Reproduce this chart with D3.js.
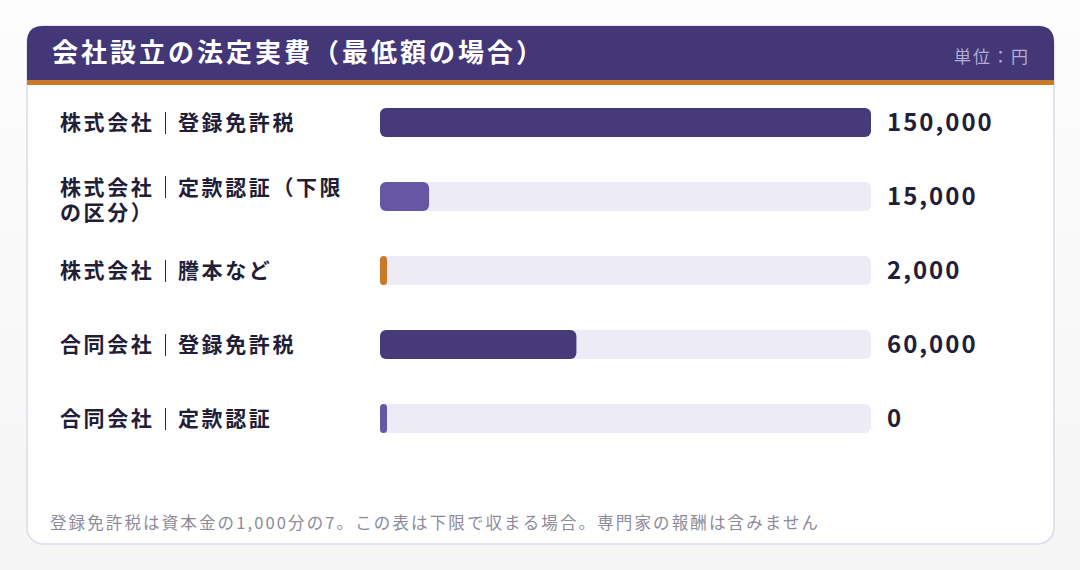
<!DOCTYPE html>
<html>
<head>
<meta charset="utf-8">
<script src="https://cdn.jsdelivr.net/npm/d3@7"></script>
<style>
  html, body { margin: 0; padding: 0; }
  body { width: 1080px; height: 570px; background: linear-gradient(#fdfdfd, #f5f5f6); overflow: hidden; }
  svg { display: block; font-family: "Noto Sans CJK JP", "Noto Sans", sans-serif; }
</style>
</head>
<body>
<script>
// chart data
var categories = ["株式会社｜登録免許税", "株式会社｜定款認証（下限の区分）", "株式会社｜謄本など", "合同会社｜登録免許税", "合同会社｜定款認証"];
var values = [150000, 15000, 2000, 60000, 0];
var kinds = ["tax", "notary", "copy", "tax", "notary"];
var title = "会社設立の法定実費（最低額の場合）";
var unitLabel = "単位：円";
var footnote = "登録免許税は資本金の1,000分の7。この表は下限で収まる場合。専門家の報酬は含みません";

var width = 1080,
    height = 570;

var colors = { tax: "#463a7a", notary: "#6656a3", copy: "#c77a27" };

var svg = d3.select("body")
    .append("svg")
    .attr("width", width)
    .attr("height", height);

//card frame
var card = { x: 27, y: 26, w: 1027, h: 518, r: 16 };

svg.append("rect")
    .attr("x", card.x)
    .attr("y", card.y)
    .attr("width", card.w)
    .attr("height", card.h)
    .attr("rx", card.r)
    .attr("fill", "#fefefe")
    .attr("stroke", "#dcdae9")
    .attr("stroke-width", 1.5);

//header band with rounded top only
var hh = 54;
svg.append("path")
    .attr("d", "M" + card.x + "," + (card.y + hh) +
        " V" + (card.y + card.r) +
        " Q" + card.x + "," + card.y + " " + (card.x + card.r) + "," + card.y +
        " H" + (card.x + card.w - card.r) +
        " Q" + (card.x + card.w) + "," + card.y + " " + (card.x + card.w) + "," + (card.y + card.r) +
        " V" + (card.y + hh) + " Z")
    .attr("fill", "#433777");

svg.append("rect")
    .attr("x", card.x)
    .attr("y", card.y + hh)
    .attr("width", card.w)
    .attr("height", 5)
    .attr("fill", "#c77a27");

svg.append("text")
    .attr("x", 52)
    .attr("y", card.y + hh / 2)
    .attr("dy", "0.36em")
    .attr("fill", "#ffffff")
    .attr("font-size", 26)
    .attr("font-weight", 700)
    .attr("letter-spacing", 3)
    .text(title);

svg.append("text")
    .attr("x", 1030)
    .attr("y", card.y + hh / 2 + 4)
    .attr("dy", "0.36em")
    .attr("text-anchor", "end")
    .attr("fill", "#b3acd4")
    .attr("font-size", 17)
    .attr("letter-spacing", 2)
    .text(unitLabel);

//scale
var x = d3.scaleLinear()
    .domain([0, d3.max(values)])
    .range([0, 491]);

var barX = 380,
    barH = 29,
    rowStep = 74,
    minW = 7;

var rows = svg.selectAll(".row")
    .data(values)
    .enter()
    .append("g")
    .attr("class", "row")
    .attr("transform", function(d, i){
        return "translate(0," + (108 + i * rowStep) + ")";
    });

//track
rows.append("rect")
    .attr("x", barX)
    .attr("width", x.range()[1])
    .attr("height", barH)
    .attr("rx", 6)
    .attr("fill", "#edebf5");

//value bar
rows.append("rect")
    .attr("x", barX)
    .attr("width", function(d){ return Math.max(x(d), minW); })
    .attr("height", barH)
    .attr("rx", function(d){ return Math.min(6, Math.max(x(d), minW) / 2); })
    .attr("fill", function(d, i){ return colors[kinds[i]]; });

//value labels
rows.append("text")
    .attr("x", 887)
    .attr("y", barH / 2)
    .attr("dy", "0.36em")
    .attr("fill", "#221e38")
    .attr("font-size", 24)
    .attr("font-weight", 700)
    .attr("letter-spacing", 2)
    .text(function(d){ return d3.format(",")(d); });

//category labels, wrapped to fit
var maxLabelW = 292,
    lineH = 25,
    labelSpacing = 2.6;

rows.each(function(d, i){
    var g = d3.select(this);
    var full = categories[i];

    //measure and break into lines by character
    var probe = svg.append("text")
        .attr("font-size", 21)
        .attr("font-weight", 700)
        .attr("letter-spacing", labelSpacing);
    var lines = [], cur = "";
    for (var k = 0; k < full.length; k++){
        probe.text(cur + full[k]);
        if (probe.node().getComputedTextLength() > maxLabelW && cur.length){
            lines.push(cur);
            cur = full[k];
        } else {
            cur += full[k];
        }
    }
    lines.push(cur);
    probe.remove();

    var y0 = barH / 2 - (lines.length - 1) * lineH / 2 + (lines.length > 1 ? 3 : 0);
    lines.forEach(function(line, li){
        var t = g.append("text")
            .attr("x", 60)
            .attr("y", y0 + li * lineH)
            .attr("dy", "0.36em")
            .attr("fill", "#221e38")
            .attr("font-size", 21)
            .attr("font-weight", 700)
            .attr("letter-spacing", labelSpacing);
        var pos = line.indexOf("｜");
        if (pos < 0){
            t.text(line);
            return;
        }
        //separator glyph kept as text but hidden; a crisp rule is drawn over it
        t.append("tspan").text(line.slice(0, pos));
        t.append("tspan").attr("fill-opacity", 0).text("｜");
        t.append("tspan").text(line.slice(pos + 1));
        var box = t.node().getExtentOfChar(pos);
        g.append("rect")
            .attr("x", Math.round(box.x + (box.width - labelSpacing) / 2))
            .attr("y", Math.round(y0 + li * lineH - 11))
            .attr("width", 1)
            .attr("height", 22)
            .attr("shape-rendering", "crispEdges")
            .attr("fill", "#2a2640");
    });
});

//footnote
svg.append("text")
    .attr("x", 50)
    .attr("y", 523)
    .attr("dy", "0.36em")
    .attr("fill", "#8d8b99")
    .attr("font-size", 16.5)
    .attr("textLength", 768)
    .attr("lengthAdjust", "spacing")
    .text(footnote);
</script>
</body>
</html>
